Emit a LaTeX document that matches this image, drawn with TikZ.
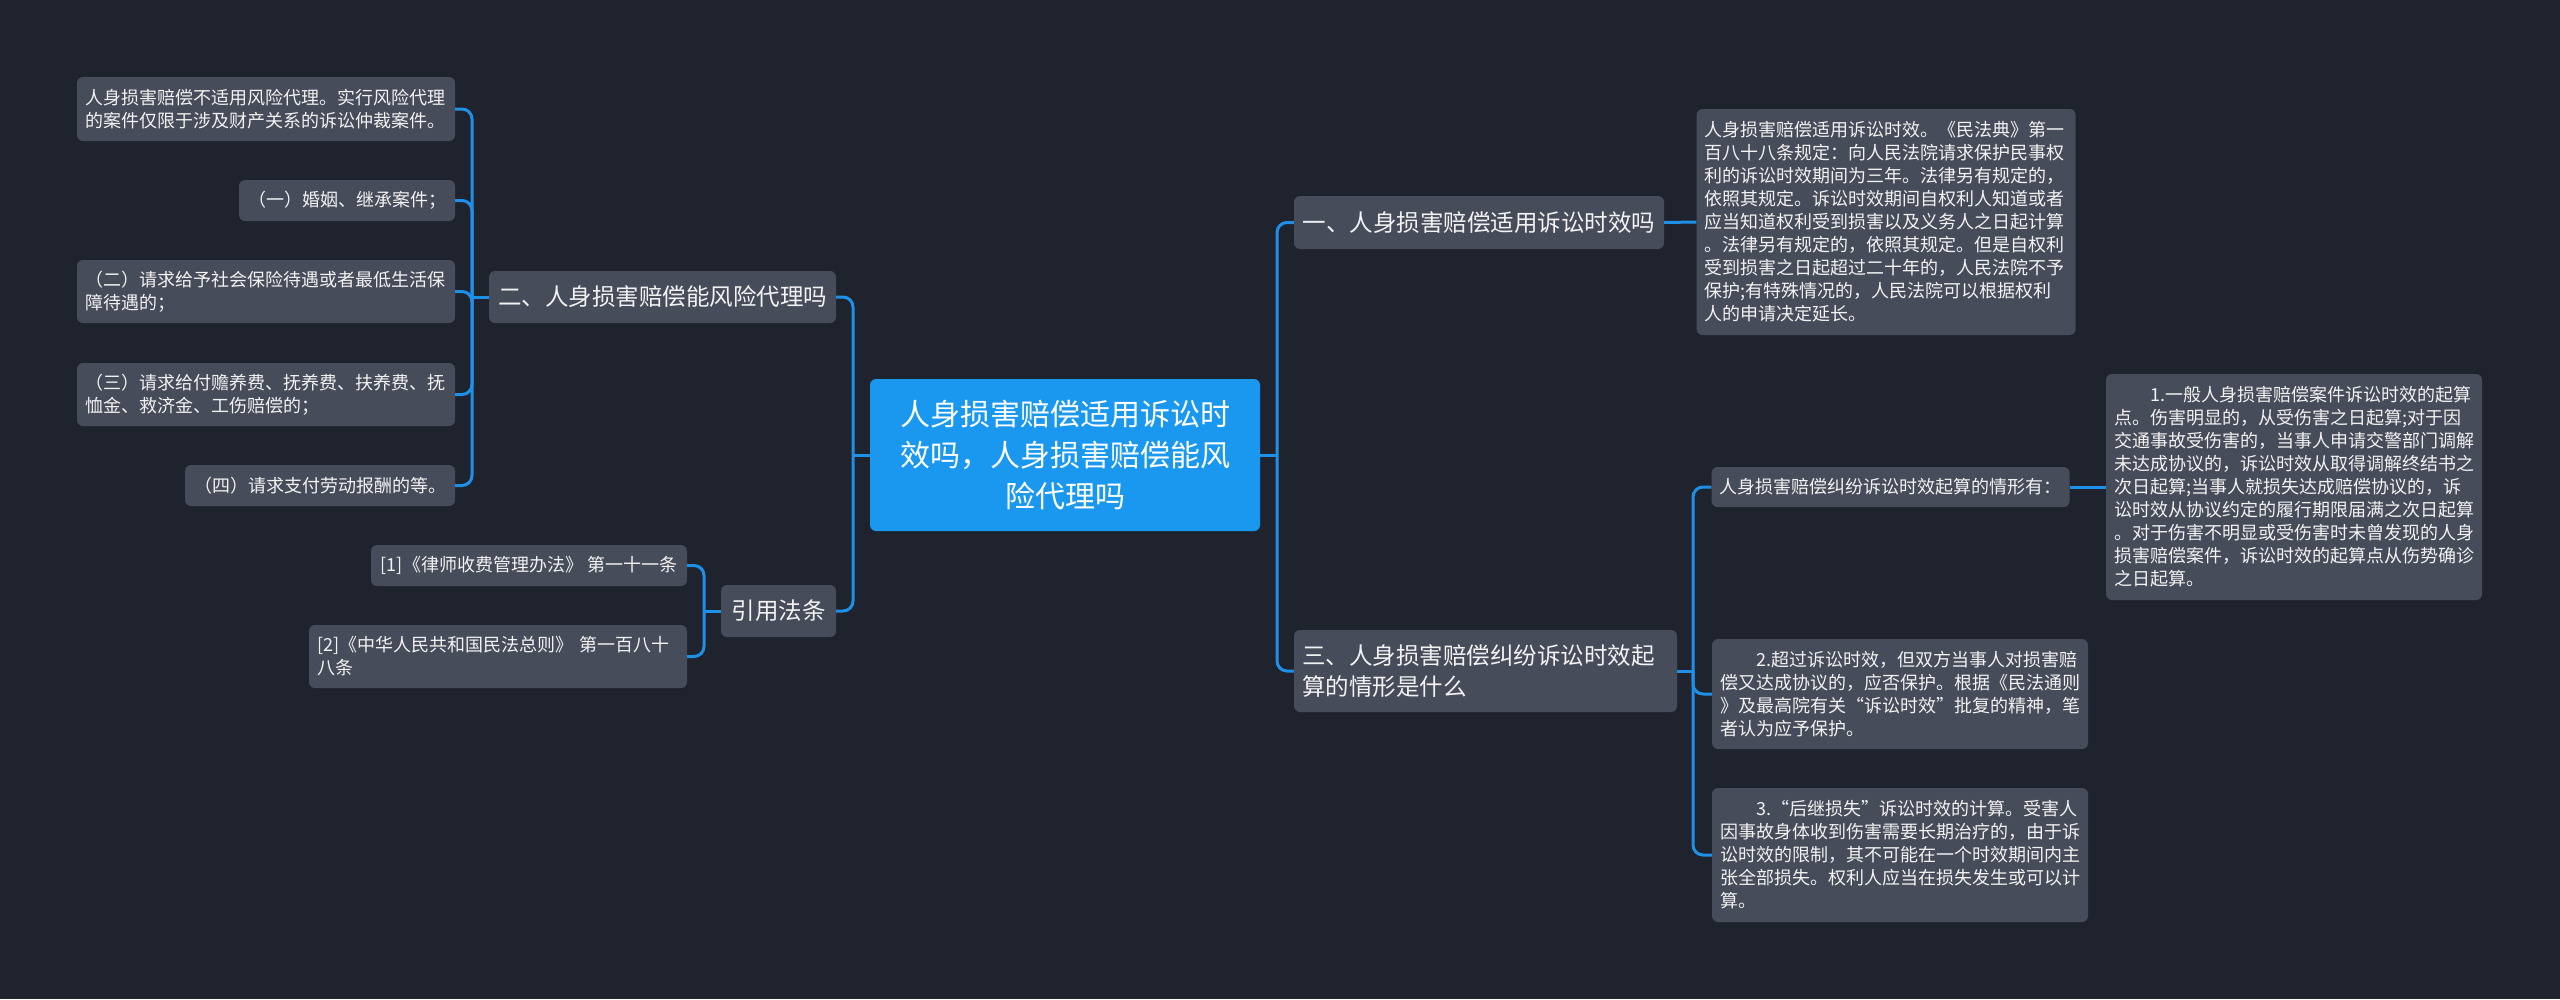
\documentclass[tikz,border=0pt]{standalone}
\usepackage{fontspec}
\setmainfont{Noto Sans CJK SC}
\definecolor{bgc}{RGB}{31,35,46}
\definecolor{nodefill}{RGB}{71,76,90}
\definecolor{centerfill}{RGB}{26,152,240}
\definecolor{linec}{RGB}{30,144,232}
\definecolor{txt}{RGB}{242,242,242}
\tikzset{
  box/.style={fill=nodefill, rounded corners=6pt, text=txt, inner xsep=8pt, inner ysep=0pt, anchor=center},
  leaf/.style={box, font=\fontsize{18}{23}\selectfont, align=left},
  leafone/.style={box, font=\fontsize{18}{23}\selectfont, align=center},
  mid/.style={box, font=\fontsize{23.5}{31}\selectfont, align=left},
  midone/.style={box, font=\fontsize{23.5}{31}\selectfont, align=center},
  rootbox/.style={box, fill=centerfill, text=white, font=\fontsize{30}{41}\selectfont, align=center},
  conn/.style={draw=linec, line width=3pt, rounded corners=10pt},
}
\begin{document}
\begin{tikzpicture}[x=1pt,y=-1pt]
\useasboundingbox[fill=bgc] (0,0) rectangle (2560,999);

% center
\node[rootbox, text width=374pt, minimum height=152pt] (root) at (1065,455)
  {人身损害赔偿适用诉讼时\\效吗，人身损害赔偿能风\\险代理吗};

% left main nodes
\node[midone, minimum width=347pt, minimum height=52pt] (n2) at (662.5,297) {二、人身损害赔偿能风险代理吗};
\node[midone, minimum width=115pt, minimum height=52pt] (nref) at (778.5,611) {引用法条};

% left leaves
\node[leaf, text width=362pt, minimum height=64pt] (la) at (266,109)
  {人身损害赔偿不适用风险代理。实行风险代理\\的案件仅限于涉及财产关系的诉讼仲裁案件。};
\node[leafone, minimum width=216pt, minimum height=41pt] (lb) at (347,200.5) {（一）婚姻、继承案件；};
\node[leaf, text width=362pt, minimum height=63pt] (lc) at (266,291.5)
  {（二）请求给予社会保险待遇或者最低生活保\\障待遇的；};
\node[leaf, text width=362pt, minimum height=63pt] (ld) at (266,394.5)
  {（三）请求给付赡养费、抚养费、扶养费、抚\\恤金、救济金、工伤赔偿的；};
\node[leafone, minimum width=270pt, minimum height=41pt] (le) at (320,485.5) {（四）请求支付劳动报酬的等。};

\node[leafone, minimum width=316pt, minimum height=41pt] (r1) at (529,565.5) {[1]《律师收费管理办法》~第一十一条};
\node[leaf, text width=362pt, minimum height=63pt] (r2) at (498,656.5)
  {[2]《中华人民共和国民法总则》~第一百八十\\八条};

% right main nodes
\node[midone, minimum width=370pt, minimum height=53pt] (n1) at (1479,222.5) {一、人身损害赔偿适用诉讼时效吗};
\node[mid, text width=367pt, minimum height=82pt] (n3) at (1485.5,671)
  {三、人身损害赔偿纠纷诉讼时效起\\算的情形是什么};

% right leaves
\node[leaf, text width=363pt, minimum height=226pt] (l1) at (1886,222)
  {人身损害赔偿适用诉讼时效。《民法典》第一\\
   百八十八条规定：向人民法院请求保护民事权\\
   利的诉讼时效期间为三年。法律另有规定的，\\
   依照其规定。诉讼时效期间自权利人知道或者\\
   应当知道权利受到损害以及义务人之日起计算\\
   。法律另有规定的，依照其规定。但是自权利\\
   受到损害之日起超过二十年的，人民法院不予\\
   保护;有特殊情况的，人民法院可以根据权利\\
   人的申请决定延长。};

\node[leafone, minimum width=357pt, minimum height=40pt] (n31) at (1890.5,487) {人身损害赔偿纠纷诉讼时效起算的情形有：};

\node[leaf, text width=360pt, minimum height=226pt] (l31) at (2294,487)
  {\hspace*{2em}1.一般人身损害赔偿案件诉讼时效的起算\\
   点。伤害明显的，从受伤害之日起算;对于因\\
   交通事故受伤害的，当事人申请交警部门调解\\
   未达成协议的，诉讼时效从取得调解终结书之\\
   次日起算;当事人就损失达成赔偿协议的，诉\\
   讼时效从协议约定的履行期限届满之次日起算\\
   。对于伤害不明显或受伤害时未曾发现的人身\\
   损害赔偿案件，诉讼时效的起算点从伤势确诊\\
   之日起算。};

\node[leaf, text width=360pt, minimum height=110pt] (l32) at (1900,694)
  {\hspace*{2em}2.超过诉讼时效，但双方当事人对损害赔\\
   偿又达成协议的，应否保护。根据《民法通则\\
   》及最高院有关“诉讼时效”批复的精神，笔\\
   者认为应予保护。};

\node[leaf, text width=360pt, minimum height=134pt] (l33) at (1900,855)
  {\hspace*{2em}3.“后继损失”诉讼时效的计算。受害人\\
   因事故身体收到伤害需要长期治疗的，由于诉\\
   讼时效的限制，其不可能在一个时效期间内主\\
   张全部损失。权利人应当在损失发生或可以计\\
   算。};

% spine coordinates
\coordinate (sC) at (853,455);
\coordinate (sR) at (1277,455);
\coordinate (s2) at (472,297);
\coordinate (sF) at (704,611);
\coordinate (s3) at (1693,671);

% connectors: center left
\draw[conn] (root.west) -- (sC);
\draw[conn] (sC) |- (n2.east);
\draw[conn] (sC) |- (nref.east);
% center right
\draw[conn] (root.east) -- (sR);
\draw[conn] (sR) |- (n1.west);
\draw[conn] (sR) |- (n3.west);
% n2 children
\draw[conn] (n2.west) -- (s2);
\draw[conn] (s2) |- (la.east);
\draw[conn] (s2) |- (lb.east);
\draw[conn] (s2) |- (lc.east);
\draw[conn] (s2) |- (ld.east);
\draw[conn] (s2) |- (le.east);
% refs
\draw[conn] (nref.west) -- (sF);
\draw[conn] (sF) |- (r1.east);
\draw[conn] (sF) |- (r2.east);
% n1
\draw[conn] (n1.east) -- (l1.west);
% n3 children
\draw[conn] (n3.east) -- (s3);
\draw[conn] (s3) |- (n31.west);
\draw[conn] (s3) |- (l32.west);
\draw[conn] (s3) |- (l33.west);
\draw[conn] (n31.east) -- (l31.west);
\end{tikzpicture}
\end{document}
